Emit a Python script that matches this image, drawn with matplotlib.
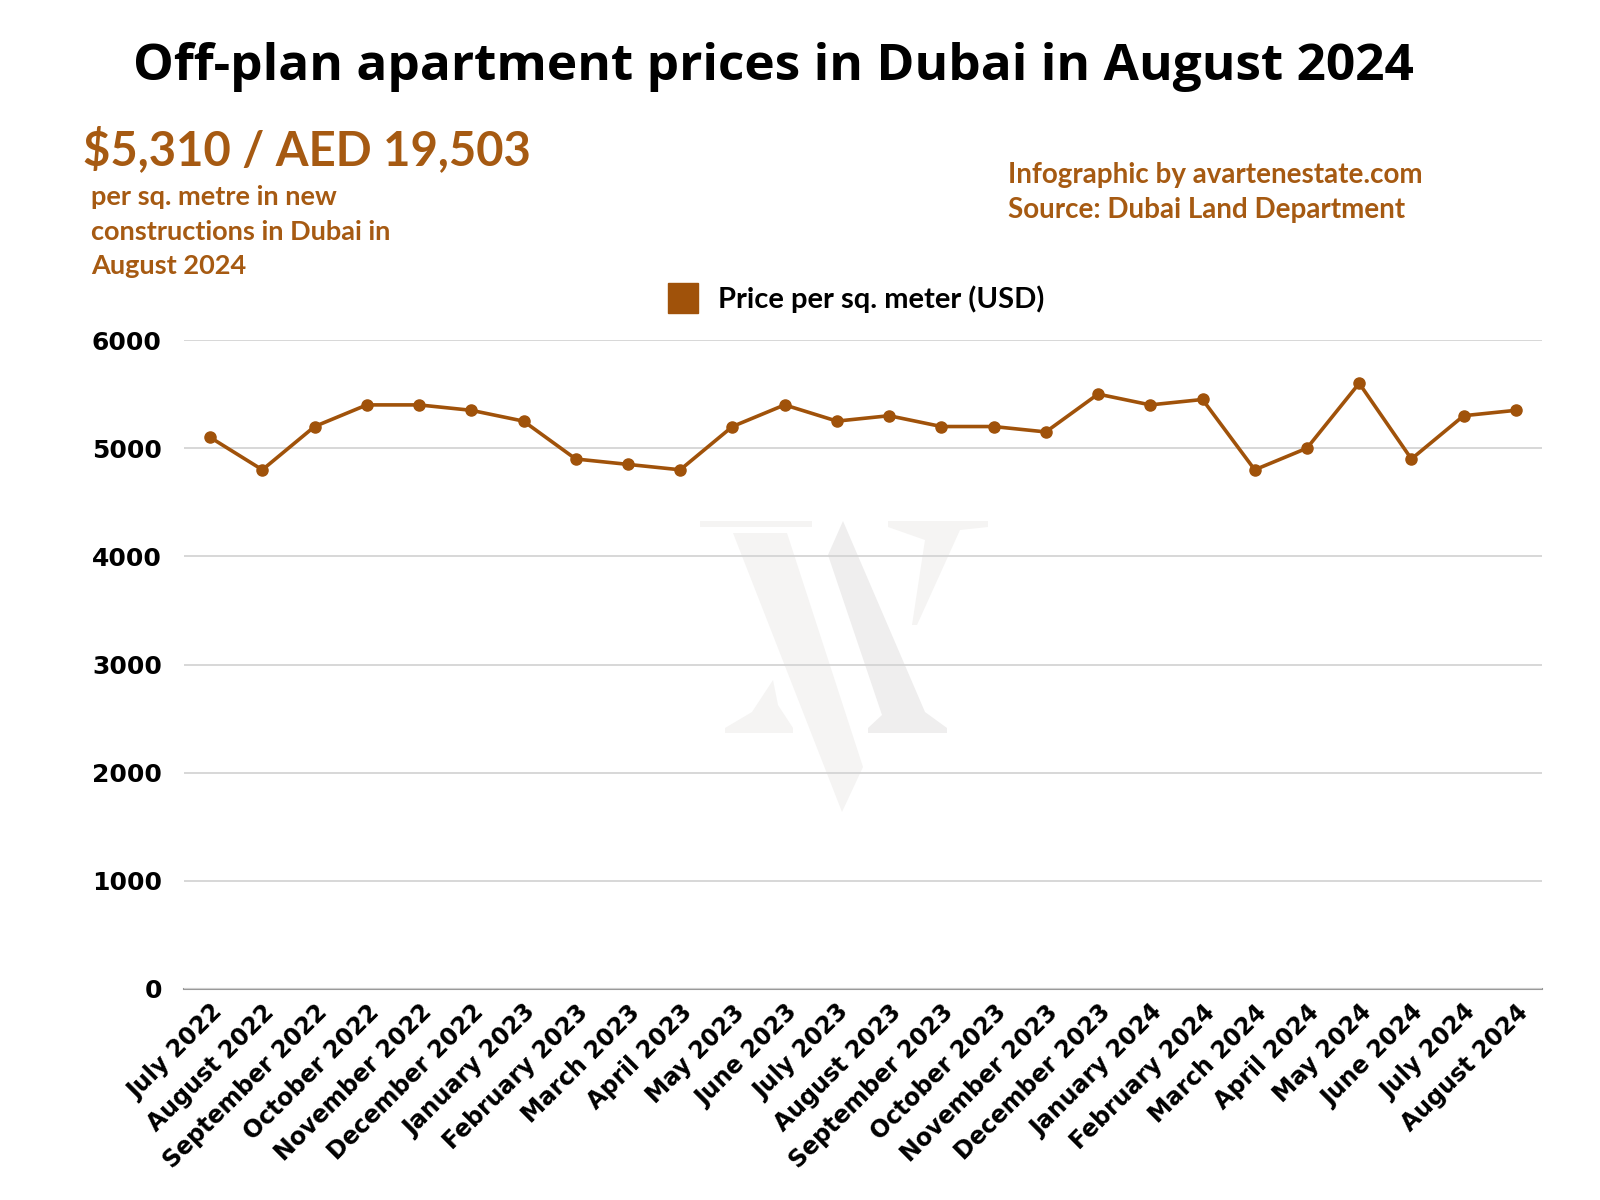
import matplotlib
matplotlib.use("Agg")
import matplotlib.pyplot as plt
from matplotlib.lines import Line2D
from matplotlib.patches import Polygon

months = ["July 2022", "August 2022", "September 2022", "October 2022", "November 2022",
          "December 2022", "January 2023", "February 2023", "March 2023", "April 2023",
          "May 2023", "June 2023", "July 2023", "August 2023", "September 2023",
          "October 2023", "November 2023", "December 2023", "January 2024", "February 2024",
          "March 2024", "April 2024", "May 2024", "June 2024", "July 2024", "August 2024"]
price_usd = [5100, 4800, 5200, 5400, 5400, 5350, 5250, 4900, 4850, 4800,
             5200, 5400, 5250, 5300, 5200, 5200, 5150, 5500, 5400, 5450,
             4800, 5000, 5600, 4900, 5300, 5350]
y_ticks = [0, 1000, 2000, 3000, 4000, 5000, 6000]

BROWN = "#a0520a"
TEXT_BROWN = "#a65a12"
W, H = 1600, 1200


def fx(px):
    return px / W


def fy(py):
    return 1 - py / H


fig = plt.figure(figsize=(16, 12), dpi=100)
fig.patch.set_facecolor("white")

# faint logo watermark behind the chart
bg = fig.add_axes([0, 0, 1, 1], zorder=-1)
bg.set_xlim(0, W)
bg.set_ylim(H, 0)
bg.axis("off")
light = "#f5f4f3"
mid = "#efeeee"
shapes = [
    ([(733, 533), (787, 533), (863, 767), (842, 812)], light),
    ([(700, 521), (812, 521), (812, 527), (700, 527)], light),
    ([(773, 680), (778, 705), (793, 728), (793, 733), (725, 733), (725, 728), (752, 712)], light),
    ([(888, 521), (988, 521), (988, 527), (960, 530), (917, 625), (912, 625), (925, 540), (888, 527)], light),
    ([(828, 555), (843, 521), (925, 712), (947, 728), (947, 733), (868, 733), (868, 728), (882, 715)], mid),
]
for pts, c in shapes:
    bg.add_patch(Polygon(pts, closed=True, facecolor=c, edgecolor="none"))

ax = fig.add_axes([fx(184), fy(989), fx(1542 - 184), (989 - 340) / H])
ax.patch.set_alpha(0)

x = list(range(len(months)))
ax.plot(x, price_usd, color=BROWN, lw=2.6, marker="o", markersize=8,
        markerfacecolor=BROWN, markeredgecolor=BROWN, zorder=3, clip_on=False)

ax.set_xlim(-0.5, len(months) - 0.5)
ax.set_ylim(0, 6000)
ax.set_yticks(y_ticks)
ax.set_yticklabels([str(v) for v in y_ticks], fontsize=18, fontweight="bold",
                   family="DejaVu Sans")
ax.set_xticks(x)
ax.set_xticklabels(months, rotation=45, ha="right", rotation_mode="anchor",
                   fontsize=17, fontweight="bold", family="DejaVu Sans")
ax.tick_params(axis="y", length=0, pad=16)
ax.tick_params(axis="x", length=0, pad=8)
ax.grid(axis="y", color="#d4d4d4", lw=1.3, zorder=0)
for s in ["top", "right", "left"]:
    ax.spines[s].set_visible(False)
ax.spines["bottom"].set_color("#999999")
ax.spines["bottom"].set_linewidth(1.5)
ax.spines["bottom"].set_zorder(1)

handle = Line2D([], [], color=BROWN, marker="s", markersize=22, linestyle="none")
fig.legend([handle], ["Price per sq. meter (USD)"], loc="center left",
           bbox_to_anchor=(fx(628), fy(299)), frameon=False, handletextpad=0.2,
           prop={"family": "Lato", "weight": "bold", "size": 21})

fig.text(fx(773), fy(67), "Off-plan apartment prices in Dubai in August 2024",
         ha="center", va="center", fontsize=37, fontweight="bold", family="Open Sans",
         color="black")
fig.text(fx(83), fy(150), "$5,310 / AED 19,503", ha="left", va="center",
         fontsize=34, fontweight="bold", family="Lato", color=TEXT_BROWN)
for i, line in enumerate(["per sq. metre in new", "constructions in Dubai in", "August 2024"]):
    fig.text(fx(91), fy(197 + i * 34.5), line, ha="left", va="center",
             fontsize=19.5, fontweight="bold", family="Lato", color=TEXT_BROWN)
fig.text(fx(1008), fy(175), "Infographic by avartenestate.com", ha="left", va="center",
         fontsize=20, fontweight="bold", family="Lato", color=TEXT_BROWN)
fig.text(fx(1008), fy(210), "Source: Dubai Land Department", ha="left", va="center",
         fontsize=20, fontweight="bold", family="Lato", color=TEXT_BROWN)

fig.savefig("out.png", dpi=100, facecolor="white")
